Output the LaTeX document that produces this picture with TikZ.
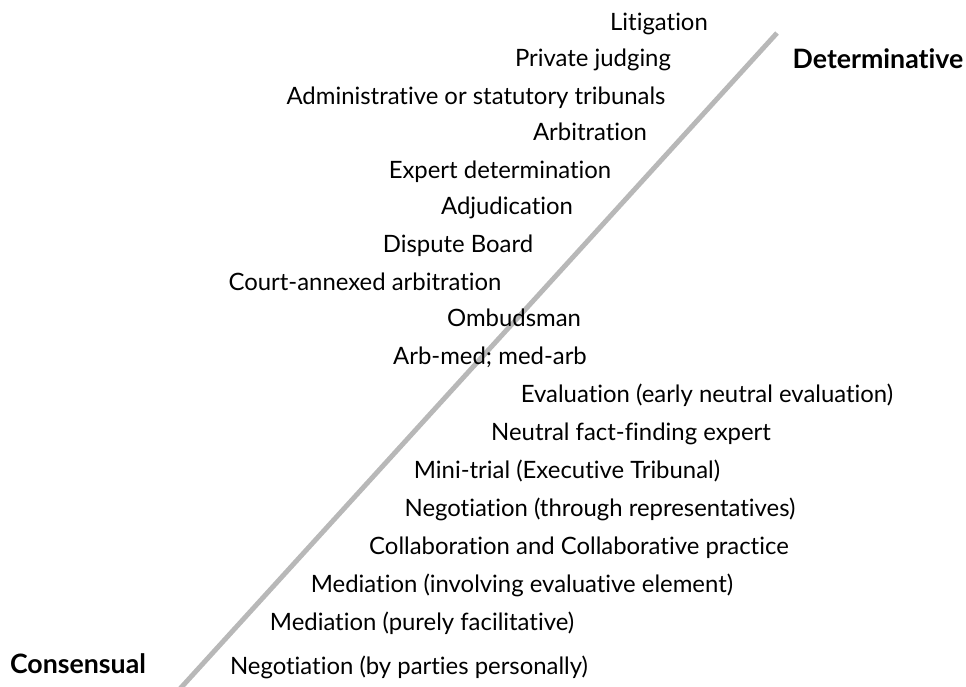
\documentclass[tikz,border=0pt]{standalone}
\usepackage{fontspec}
\setmainfont[Ligatures=NoCommon]{Lato}
\usepackage{tikz}
\usetikzlibrary{positioning}
\tikzset{every picture/.style={line width=1pt}}

\begin{document}
\begin{tikzpicture}[item/.style={anchor=base, inner sep=0pt, font=\fontsize{17}{20}\selectfont},
  pole/.style={anchor=base, inner sep=0pt, font=\fontsize{19}{22}\selectfont\bfseries},
  axis/.style={draw=black!28, line width=3.5pt}]
\useasboundingbox (0,0) rectangle (24.15cm,17.175cm);

\coordinate (low) at (4.45cm,-0.1cm);
\coordinate (high) at (19.425cm,16.35cm);
\draw [axis] (low) -- (high);

\node (lit) at (16.475cm,16.42cm) [item] {Litigation};
\node (priv) at (14.825cm,15.5cm) [item] {Private judging};
\node (admin) at (11.9cm,14.57cm) [item] {Administrative or statutory tribunals};
\node (arb) at (14.75cm,13.65cm) [item] {Arbitration};
\node (expert) at (12.5cm,12.72cm) [item] {Expert determination};
\node (adj) at (12.675cm,11.8cm) [item] {Adjudication};
\node (board) at (11.45cm,10.85cm) [item] {Dispute Board};
\node (court) at (9.125cm,9.92cm) [item] {Court-annexed arbitration};
\node (omb) at (12.85cm,9.0cm) [item] {Ombudsman};
\node (armed) at (12.25cm,8.07cm) [item] {Arb-med; med-arb};
\node (eval) at (17.675cm,7.12cm) [item] {Evaluation (early neutral evaluation)};
\node (fact) at (15.775cm,6.17cm) [item] {Neutral fact-finding expert};
\node (mini) at (14.175cm,5.22cm) [item] {Mini-trial (Executive Tribunal)};
\node (negrep) at (15.0cm,4.27cm) [item] {Negotiation (through representatives)};
\node (collab) at (14.475cm,3.32cm) [item] {Collaboration and Collaborative practice};
\node (medeval) at (13.05cm,2.37cm) [item] {Mediation (involving evaluative element)};
\node (medfac) at (10.55cm,1.42cm) [item] {Mediation (purely facilitative)};
\node (negpers) at (10.225cm,0.3cm) [item] {Negotiation (by parties personally)};

\node (cons) at (1.95cm,0.33cm) [pole] {Consensual};
\node (det) at (21.95cm,15.45cm) [pole] {Determinative};
\end{tikzpicture}
\end{document}
